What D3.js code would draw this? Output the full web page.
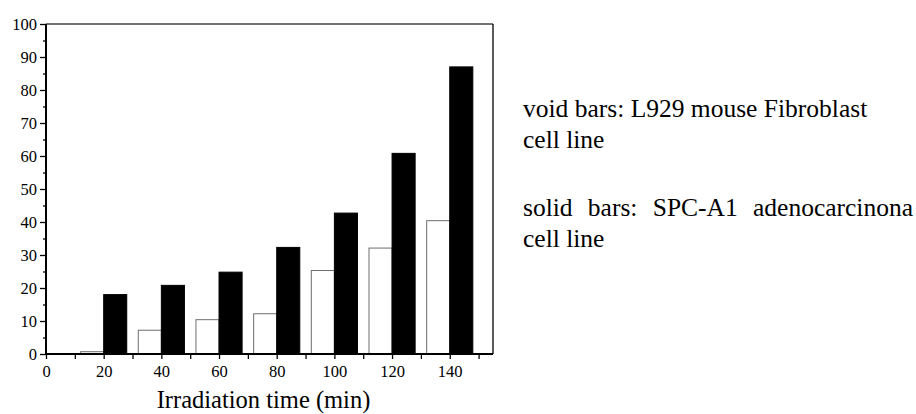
<!DOCTYPE html>
<html>
<head>
<meta charset="utf-8">
<script src="https://cdn.jsdelivr.net/npm/d3@7/dist/d3.min.js"></script>
<style>
  body { margin: 0; background: #fff; }
  text { font-family: "Liberation Serif", "Times New Roman", serif; fill: #000; }
</style>
</head>
<body>
<svg id="chart" width="916" height="414"></svg>
<script>
// irradiation time (min)
var times = [0, 20, 40, 60, 80, 100, 120, 140];
// void bars: L929 mouse fibroblast
var voidVals = [0, 0.7, 7.2, 10.4, 12.2, 25.3, 32.1, 40.4];
// solid bars: SPC-A1 adenocarcinoma
var solidVals = [0, 18.0, 20.8, 24.8, 32.3, 42.7, 60.8, 87.0];
var xTicks = [0, 20, 40, 60, 80, 100, 120, 140];
var yTicks = [0, 10, 20, 30, 40, 50, 60, 70, 80, 90, 100];
var legendLines = ["void bars: L929 mouse Fibroblast", "cell line",
                   "solid bars: SPC-A1 adenocarcinona", "cell line"];

var svg = d3.select("#chart");

var mLeft = 46, mRight = 493, mTop = 24, mBottom = 354;
var barW = 8;

var x = d3.scaleLinear().domain([0, 155]).range([mLeft, mRight]);
var y = d3.scaleLinear().domain([0, 100]).range([mBottom, mTop]);

var plot = svg.append("g");

// clip so the zero bar left of 0 does not stick out
svg.append("clipPath").attr("id", "clip")
  .append("rect").attr("x", mLeft).attr("y", mTop)
  .attr("width", mRight - mLeft).attr("height", mBottom - mTop);

var bars = plot.append("g").attr("clip-path", "url(#clip)");

bars.selectAll(".void")
  .data(times)
  .enter()
  .append("rect")
  .attr("class", "void")
  .attr("x", function (d) { return x(d - barW); })
  .attr("width", function (d) { return x(d) - x(d - barW); })
  .attr("y", function (d, i) { return y(voidVals[i]); })
  .attr("height", function (d, i) { return y(0) - y(voidVals[i]); })
  .attr("fill", "#fff")
  .attr("stroke", "#6e6e6e")
  .attr("stroke-width", 1);

bars.selectAll(".solid")
  .data(times)
  .enter()
  .append("rect")
  .attr("class", "solid")
  .attr("x", function (d) { return x(d); })
  .attr("width", function (d) { return x(d + barW) - x(d); })
  .attr("y", function (d, i) { return y(solidVals[i]); })
  .attr("height", function (d, i) { return y(0) - y(solidVals[i]); })
  .attr("fill", "#000")
  .attr("stroke", "#000")
  .attr("stroke-width", 1);

// frame: top and right
plot.append("line")
  .attr("x1", mLeft).attr("x2", mRight).attr("y1", mTop).attr("y2", mTop)
  .attr("stroke", "#444").attr("stroke-width", 1.6);
plot.append("line")
  .attr("x1", mRight).attr("x2", mRight).attr("y1", mTop).attr("y2", mBottom)
  .attr("stroke", "#000").attr("stroke-width", 1.3);

// minor ticks
var yMinor = d3.range(5, 100, 10);
var xMinor = d3.range(10, 160, 20);

var yAxis = svg.append("g")
  .attr("transform", "translate(" + mLeft + ",0)")
  .call(d3.axisLeft(y).tickValues(yTicks).tickSize(6).tickPadding(3).tickFormat(d3.format("d")));
svg.append("g")
  .attr("transform", "translate(" + mLeft + ",0)")
  .call(d3.axisLeft(y).tickValues(yMinor).tickSize(3).tickFormat(""))
  .call(function (g) { g.select(".domain").remove(); });

var xAxis = svg.append("g")
  .attr("transform", "translate(0," + mBottom + ")")
  .call(d3.axisBottom(x).tickValues(xTicks).tickSize(5).tickPadding(6).tickFormat(d3.format("d")));
svg.append("g")
  .attr("transform", "translate(0," + mBottom + ")")
  .call(d3.axisBottom(x).tickValues(xMinor).tickSize(5).tickFormat(""))
  .call(function (g) { g.select(".domain").remove(); });

svg.selectAll(".domain").attr("stroke", "#000").attr("stroke-width", 2);
svg.selectAll(".tick line").attr("stroke", "#000").attr("stroke-width", 1.3);
yAxis.selectAll(".domain").attr("d", "M0," + mBottom + "V" + mTop);
xAxis.selectAll(".domain").attr("d", "M" + mLeft + ",0H" + mRight);

svg.selectAll(".tick text")
  .style("font-family", "'Liberation Serif', serif")
  .style("font-size", "16.5px")
  .attr("fill", "#000");

// axis title
svg.append("text")
  .attr("x", (mLeft + mRight) / 2 - 6)
  .attr("y", 408)
  .attr("text-anchor", "middle")
  .style("font-size", "24.5px")
  .text("Irradiation time (min)");

// legend text (third line is justified to the right edge via word spacing)
var legendY = [117, 148, 216, 247];
var legend = svg.selectAll(".legend")
  .data(legendLines)
  .enter()
  .append("text")
  .attr("class", "legend")
  .attr("x", 523)
  .attr("y", function (d, i) { return legendY[i]; })
  .style("font-size", "25.5px")
  .text(function (d) { return d; });

legend.filter(function (d, i) { return i == 2; })
  .each(function (d) {
    var w = this.getComputedTextLength();
    var gaps = d.split(" ").length - 1;
    var extra = Math.max(0, (390 - w) / gaps);
    d3.select(this).style("word-spacing", extra + "px");
  });
</script>
</body>
</html>
